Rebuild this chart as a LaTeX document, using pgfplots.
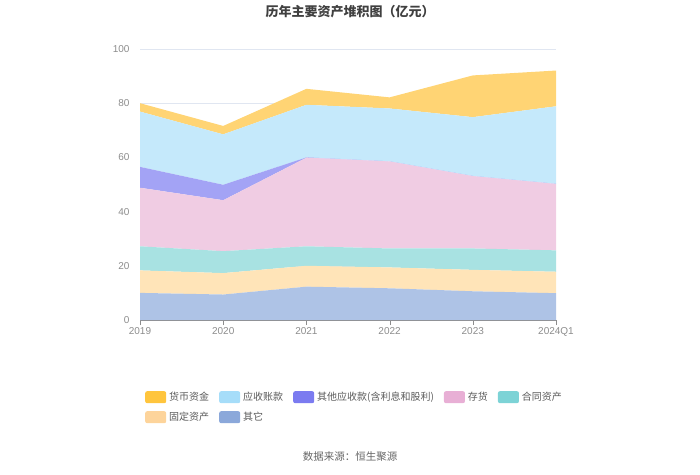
\documentclass[border=0pt]{standalone}
\usepackage{fontspec}
\setmainfont{Liberation Sans}
\newfontfamily\cjk{Noto Sans CJK SC}
\usepackage{pgfplots}
\pgfplotsset{compat=1.18}

% area fills (lighter) and legend swatches (full)
\definecolor{aHB}{HTML}{FFD474}\definecolor{lHB}{HTML}{FFC53D}
\definecolor{aYS}{HTML}{C5E9FB}\definecolor{lYS}{HTML}{A6DDF9}
\definecolor{aQT}{HTML}{A3A3F5}\definecolor{lQT}{HTML}{7B7BF0}
\definecolor{aCH}{HTML}{F0CCE3}\definecolor{lCH}{HTML}{E8AFD5}
\definecolor{aHT}{HTML}{A8E2E2}\definecolor{lHT}{HTML}{7DD3D6}
\definecolor{aGD}{HTML}{FFE4B8}\definecolor{lGD}{HTML}{FDD49B}
\definecolor{aQJ}{HTML}{AEC3E6}\definecolor{lQJ}{HTML}{8BA8DA}
\definecolor{tickgray}{HTML}{8C8C8C}
\definecolor{gridc}{HTML}{E0E6F1}

\begin{document}
\begin{tikzpicture}
\path (0pt,0pt) rectangle (700pt,474pt);
\node[font=\cjk\bfseries\fontsize{13}{15}\selectfont, text=black!75] at (350pt,462pt) {历年主要资产堆积图（亿元）};
\node[font=\cjk\fontsize{10.5}{12}\selectfont, text=black!60] at (350pt,17pt) {数据来源：恒生聚源};
\begin{axis}[
  at={(140pt,154pt)}, anchor=south west,
  scale only axis, width=416pt, height=271pt,
  stack plots=y,
  xmin=0, xmax=5, ymin=0, ymax=100,
  xtick=data,
  xticklabels={2019,2020,2021,2022,2023,2024Q1},
  ytick={0,20,40,60,80,100},
  axis x line*=bottom, axis y line*=left,
  axis line style={-},
  x axis line style={draw=black!45},
  y axis line style={draw=none},
  ytick style={draw=none},
  xtick style={draw=black!45},
  tick align=outside,
  major tick length=5pt,
  ymajorgrids, grid style={gridc, line width=0.6pt},
  ticklabel style={font=\fontsize{10}{12}\selectfont, text=tickgray},
  /pgf/number format/assume math mode=true,
  yticklabel style={xshift=-2pt},
  xticklabel style={yshift=1pt},
  legend columns=5,
  legend cell align=left,
  legend style={at={(0.012,-0.262)}, anchor=north west, draw=none, fill=none,
    inner sep=0pt, row sep=8pt,
    font=\cjk\fontsize{10}{12}\selectfont, text=black!65,
    nodes={inner xsep=3pt, inner ysep=0pt},
    /tikz/every even column/.append style={column sep=7pt}},
  legend image code/.code={\fill[#1, draw=none, rounded corners=2pt] (0pt,-6pt) rectangle (21pt,6pt);},
]
% bottom to top
\addplot[fill=aQJ, draw=none, forget plot] coordinates {(0,10.0) (1,9.4) (2,12.3) (3,11.7) (4,10.6) (5,9.9)} \closedcycle;
\addplot[fill=aGD, draw=none, forget plot] coordinates {(0,8.3) (1,7.9) (2,7.7) (3,7.7) (4,7.9) (5,7.9)} \closedcycle;
\addplot[fill=aHT, draw=none, forget plot] coordinates {(0,8.9) (1,8.1) (2,7.2) (3,7.0) (4,7.9) (5,7.9)} \closedcycle;
\addplot[fill=aCH, draw=none, forget plot] coordinates {(0,21.6) (1,18.8) (2,32.7) (3,32.1) (4,26.7) (5,24.5)} \closedcycle;
\addplot[fill=aQT, draw=none, forget plot] coordinates {(0,7.7) (1,5.7) (2,0.1) (3,0.05) (4,0.05) (5,0.05)} \closedcycle;
\addplot[fill=aYS, draw=none, forget plot] coordinates {(0,20.4) (1,18.6) (2,19.4) (3,19.5) (4,21.7) (5,28.6)} \closedcycle;
\addplot[fill=aHB, draw=none, forget plot] coordinates {(0,3.1) (1,3.1) (2,5.9) (3,4.1) (4,15.4) (5,13.2)} \closedcycle;
\addlegendimage{fill=lHB, draw=none}\addlegendentry{货币资金}
\addlegendimage{fill=lYS, draw=none}\addlegendentry{应收账款}
\addlegendimage{fill=lQT, draw=none}\addlegendentry{其他应收款(含利息和股利)}
\addlegendimage{fill=lCH, draw=none}\addlegendentry{存货}
\addlegendimage{fill=lHT, draw=none}\addlegendentry{合同资产}
\addlegendimage{fill=lGD, draw=none}\addlegendentry{固定资产}
\addlegendimage{fill=lQJ, draw=none}\addlegendentry{其它}
\end{axis}
\end{tikzpicture}
\end{document}
